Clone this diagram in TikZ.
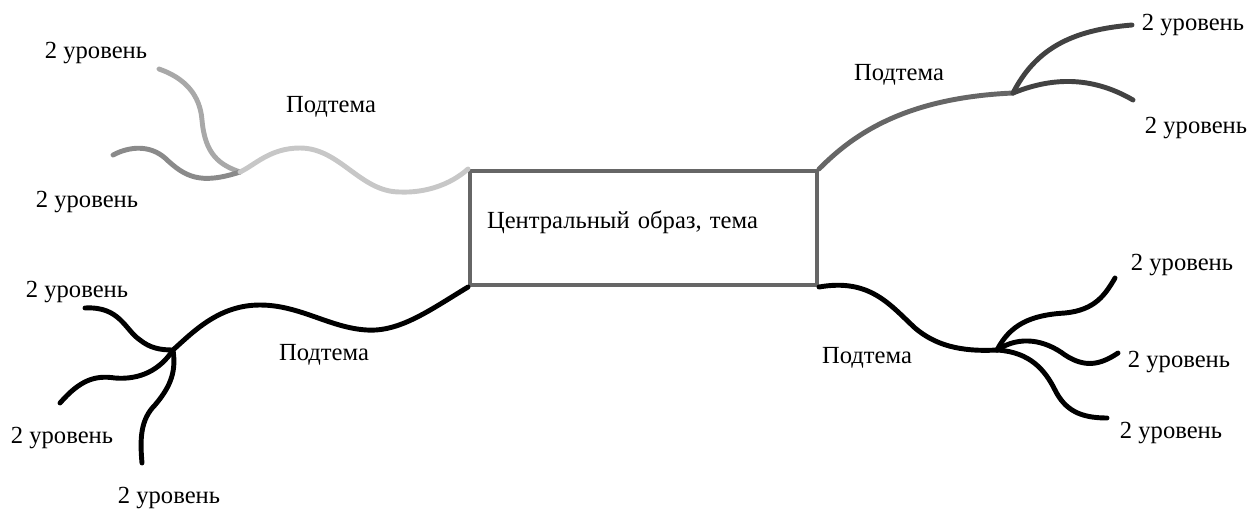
\documentclass[tikz,border=0pt]{standalone}
\usepackage{fontspec}
\setmainfont{Liberation Serif}
\newfontfamily\mapfont{Liberation Serif}
\usepackage{tikz}
\usetikzlibrary{positioning}

\begin{document}
\begin{tikzpicture}[
  x=0.02cm, y=-0.02cm,
  font=\mapfont\fontsize{14}{16}\selectfont,
  theme/.style={draw=black!60, line width=2.3pt, minimum width=6.94cm, minimum height=2.28cm,
    text width=6.26cm, align=left, inner xsep=0.34cm, text depth=0.34cm},
  lbl/.style={inner sep=1pt},
  branch/.style={line width=2.8pt, line cap=round},
  pale/.style={branch, draw=black!22},
  mid/.style={branch, draw=black!34},
  dim/.style={branch, draw=black!46},
  gry/.style={branch, draw=black!60},
  dark/.style={branch, draw=black!74},
  ink/.style={branch, draw=black}
]
\useasboundingbox (0,0) rectangle (1250,508);

\node[theme] (core) at (643.5,228) {Центральный образ, тема};

\node[lbl] (subNW) at (331,107) {Подтема};
\node[lbl] (subNE) at (899,75) {Подтема};
\node[lbl] (subSW) at (324,355) {Подтема};
\node[lbl] (subSE) at (867,358) {Подтема};

\node[lbl] (nwA) at (96,53) {2 уровень};
\node[lbl] (nwB) at (87,202) {2 уровень};
\node[lbl] (neA) at (1193,25) {2 уровень};
\node[lbl] (neB) at (1196,128) {2 уровень};
\node[lbl] (swA) at (77,292) {2 уровень};
\node[lbl] (swB) at (62,438) {2 уровень};
\node[lbl] (swC) at (169,498) {2 уровень};
\node[lbl] (seA) at (1182,265) {2 уровень};
\node[lbl] (seB) at (1179,362) {2 уровень};
\node[lbl] (seC) at (1171,433) {2 уровень};

\coordinate (jNW) at (240,172);
\coordinate (jNE) at (1013,93);
\coordinate (jSW) at (173,350);
\coordinate (jSE) at (997,350);

\coordinate (eNWa) at (159,69);
\coordinate (eNWb) at (113,155);
\coordinate (eNEa) at (1132,25);
\coordinate (eNEb) at (1133,100);
\coordinate (eSWa) at (85,308);
\coordinate (eSWb) at (60,403);
\coordinate (eSWc) at (142,463);
\coordinate (eSEa) at (1115,278);
\coordinate (eSEb) at (1118,353);
\coordinate (eSEc) at (1107,418);

% upper left
\draw[mid] (eNWa) .. controls (185,78) and (200,95) .. (202,120)
  .. controls (205,155) and (220,165) .. (jNW);
\draw[dim] (eNWb) .. controls (130,146) and (150,145) .. (165,158)
  .. controls (185,177) and (200,185) .. (jNW);
\draw[pale] (core.north west) .. controls (450,185) and (425,193) .. (400,192)
  .. controls (360,192) and (340,148) .. (300,148)
  .. controls (270,148) and (255,165) .. (jNW);

% upper right
\draw[gry] (core.north east) .. controls (850,138) and (900,98) .. (jNE);
\draw[dark] (jNE) .. controls (1035,50) and (1070,30) .. (eNEa);
\draw[dark] (jNE) .. controls (1050,78) and (1090,75) .. (eNEb);

% lower left
\draw[ink] (core.south west) .. controls (430,310) and (400,332) .. (367,330)
  .. controls (330,328) and (300,305) .. (260,305)
  .. controls (220,305) and (195,330) .. (jSW);
\draw[ink] (eSWa) .. controls (120,306) and (125,330) .. (140,340)
  .. controls (150,348) and (160,350) .. (jSW);
\draw[ink] (eSWb) .. controls (80,380) and (95,375) .. (115,378)
  .. controls (140,380) and (160,370) .. (jSW);
\draw[ink] (eSWc) .. controls (140,440) and (140,420) .. (155,405)
  .. controls (172,385) and (176,370) .. (jSW);

% lower right
\draw[ink] (core.south east) .. controls (870,278) and (890,305) .. (915,328)
  .. controls (935,345) and (960,352) .. (jSE);
\draw[ink] (jSE) .. controls (1010,325) and (1030,315) .. (1065,313)
  .. controls (1095,310) and (1105,295) .. (eSEa);
\draw[ink] (jSE) .. controls (1020,335) and (1045,340) .. (1065,355)
  .. controls (1085,368) and (1100,365) .. (eSEb);
\draw[ink] (jSE) .. controls (1030,352) and (1045,370) .. (1055,390)
  .. controls (1065,410) and (1080,418) .. (eSEc);

\end{tikzpicture}
\end{document}
